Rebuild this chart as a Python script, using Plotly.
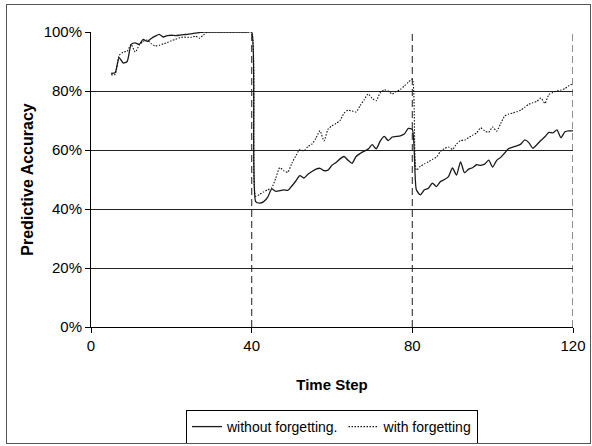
import plotly.graph_objects as go

# ---- data ----
time_steps = list(range(5, 121))

without_forgetting = [
    86.0, 86.2, 91.3, 89.5, 90.0, 95.8, 96.3, 95.8, 97.5, 96.8,      # 5-14
    97.8, 98.6, 99.2, 98.3, 98.8, 98.9, 98.8, 98.9, 99.1, 99.2,      # 15-24
    99.4, 99.6, 99.8, 100, 100, 100, 100, 100, 100, 100,             # 25-34
    100, 100, 100, 100, 100, 100,                                    # 35-40
    42.5, 42.0, 42.5, 44.0, 46.8, 46.0, 46.2, 46.5, 46.3, 47.8,      # 41-50
    49.5, 51.3, 50.5, 51.8, 52.7, 53.5, 53.8, 53.0, 53.2, 54.8,      # 51-60
    55.8, 57.0, 57.8, 56.5, 55.5, 57.8, 58.8, 59.6, 60.3, 61.8,      # 61-70
    60.4, 63.0, 64.6, 63.2, 64.4, 64.6, 64.8, 65.4, 67.3, 66.9,      # 71-80
    46.5, 44.8, 46.5, 47.0, 48.8, 47.6, 49.3, 50.0, 51.0, 53.9,      # 81-90
    51.5, 56.0, 52.3, 53.5, 54.0, 55.0, 54.8, 55.2, 56.6, 54.2,      # 91-100
    56.5, 57.5, 59.0, 60.5, 61.0, 61.4, 62.0, 63.4, 62.5, 60.6,      # 101-110
    61.8, 63.2, 64.5, 66.0, 65.8, 66.8, 64.2, 66.2, 66.5, 66.5,      # 111-120
]

with_forgetting = [
    85.5, 85.6, 92.0, 93.2, 93.5, 95.8, 93.2, 95.5, 96.8, 97.3,      # 5-14
    96.0, 95.3, 95.5, 96.0, 96.4, 97.0, 97.5, 98.0, 98.3, 98.2,      # 15-24
    98.2, 98.6, 97.9, 99.0, 100, 100, 100, 100, 100, 100,            # 25-34
    100, 100, 100, 100, 100, 100,                                    # 35-40
    44.3, 45.0, 45.8, 46.5, 47.2, 50.5, 54.0, 53.0, 52.5, 55.5,      # 41-50
    58.0, 60.2, 59.7, 61.2, 62.0, 64.0, 66.5, 63.1, 67.0, 68.2,      # 51-60
    69.0, 70.0, 72.5, 73.5, 73.2, 72.9, 75.0, 77.0, 79.0, 77.5,      # 61-70
    76.7, 79.4, 80.4, 80.0, 79.0, 79.8, 80.5, 81.7, 83.0, 84.0,      # 71-80
    53.2, 54.5, 55.3, 56.0, 56.8, 57.6, 59.5, 60.5, 61.0, 60.2,      # 81-90
    62.0, 63.2, 63.3, 64.2, 65.0, 65.8, 67.5, 66.5, 66.0, 67.8,      # 91-100
    66.4, 69.0, 71.5, 72.2, 72.5, 73.0, 73.5, 74.5, 75.5, 76.0,      # 101-110
    76.5, 77.6, 75.8, 78.8, 79.5, 80.0, 80.3, 80.8, 81.8, 82.5,      # 111-120
]

drift_steps = [40, 80, 120]
x_ticks = [0, 40, 80, 120]
y_ticks = [0, 20, 40, 60, 80, 100]
y_tick_labels = [f"{v}%" for v in y_ticks]

# ---- layout geometry (pixels) ----
W, H = 592, 446
ML, MR, MT, MB = 91, 19, 32, 119
PW, PH = W - ML - MR, H - MT - MB


def py(yp):
    return (H - MB - yp) / PH


FONT = "Liberation Sans, Arial, sans-serif"

fig = go.Figure()
fig.add_trace(go.Scatter(
    x=time_steps, y=without_forgetting, name="without forgetting.",
    mode="lines", line=dict(color="#1a1a1a", width=1.3, shape="spline", smoothing=0.6),
    cliponaxis=False,
))
fig.add_trace(go.Scatter(
    x=time_steps, y=with_forgetting, name="with forgetting",
    mode="lines", line=dict(color="#111111", width=1.1, dash="1.5px,1.5px",
                            shape="spline", smoothing=0.6),
    cliponaxis=False,
))

shapes = []
for d in drift_steps:
    shapes.append(dict(type="line", xref="x", yref="paper", x0=d, x1=d, y0=0, y1=1,
                       line=dict(color="#444444", width=1.2, dash="7px,4px"), layer="below"))

fig.update_layout(
    width=W, height=H,
    margin=dict(l=ML, r=MR, t=MT, b=MB, autoexpand=False),
    paper_bgcolor="white", plot_bgcolor="white",
    font=dict(family=FONT, size=15, color="black"),
    shapes=shapes,
    showlegend=True,
    legend=dict(orientation="h", xanchor="center", x=0.5, yanchor="top", y=py(410),
                bordercolor="black", borderwidth=1, bgcolor="white",
                font=dict(family=FONT, size=14, color="black"),
                itemwidth=30, tracegroupgap=0),
)
fig.update_xaxes(
    range=[0, 120], tickvals=x_ticks, ticks="outside", ticklen=5, tickcolor="black",
    showline=True, linecolor="black", linewidth=1, showgrid=False, zeroline=False,
    tickfont=dict(size=15), ticklabelstandoff=0,
    title=dict(text="<b>Time Step</b>", font=dict(size=15), standoff=26),
)
fig.update_yaxes(
    range=[0, 100], tickvals=y_ticks, ticktext=y_tick_labels, ticks="outside", ticklen=5,
    tickcolor="black", showline=True, linecolor="black", linewidth=1,
    showgrid=True, gridcolor="#222222", gridwidth=1, zeroline=False,
    tickfont=dict(size=15),
    title=dict(text="<b>Predictive Accuracy</b>", font=dict(size=16), standoff=6),
)

# page styling: no body margin, thin outer frame like the original chart area
post = (
    "document.body.style.margin='0';"
    "var f=document.createElement('div');"
    "f.style.cssText='position:absolute;left:6px;top:4px;width:583px;height:438px;"
    "border:1px solid #555;pointer-events:none;';"
    "document.body.appendChild(f);"
)
fig.write_html("out.html", post_script=post, config={"displayModeBar": False})
